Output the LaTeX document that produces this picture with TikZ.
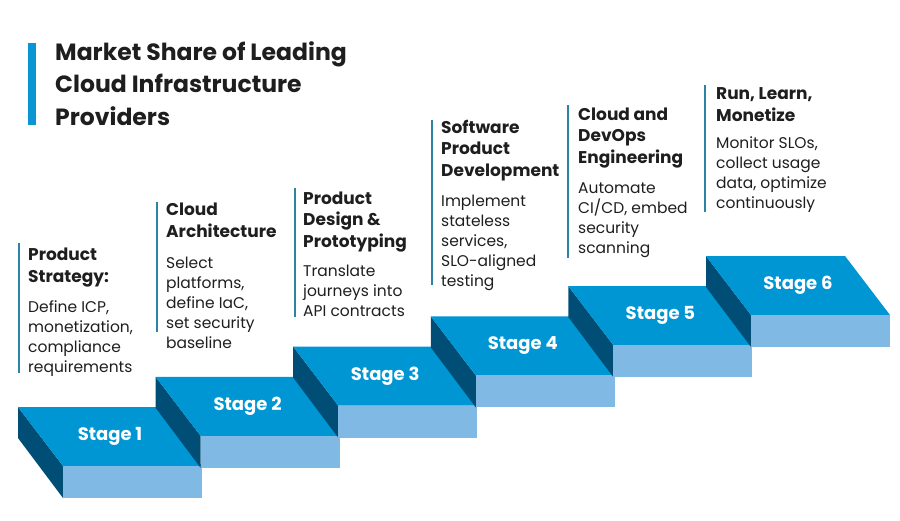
\documentclass[tikz,border=0pt]{standalone}
\usepackage{fontspec}
\setmainfont{Poppins}
\usepackage{tikz}
\definecolor{topblue}{RGB}{0,150,212}
\definecolor{sideblue}{RGB}{0,78,117}
\definecolor{frontblue}{RGB}{128,186,228}
\definecolor{barblue}{RGB}{10,150,210}
\definecolor{rulecol}{RGB}{45,130,165}
\definecolor{ink}{RGB}{30,30,30}

\begin{document}
\begin{tikzpicture}[x=1pt,y=-1pt,
  titletext/.style={anchor=base west,inner sep=0pt,align=left,text=ink,font=\fontsize{23.5}{32.5}\selectfont\bfseries},
  head/.style={anchor=base west,inner sep=0pt,align=left,text=ink,font=\fontsize{17}{21.5}\selectfont\bfseries},
  body/.style={anchor=base west,inner sep=0pt,align=left,text=ink,font=\fontsize{15.5}{20}\selectfont},
  stagelabel/.style={text=white,font=\fontsize{18}{20}\selectfont\bfseries},
  divider/.style={rulecol,line width=1.3pt}]
\useasboundingbox (0,0) rectangle (900,520);
%%% title with the bar on its left (base = last line)
\fill[barblue] (28,43) rectangle (36,125);
\node[titletext] (title) at (55,125) {Market Share of Leading\\Cloud Infrastructure\\Providers};
%%% the six steps, lowest first
\foreach \i in {1,...,6}{
  \pgfmathsetmacro\bx{18+(\i-1)*137.6}
  \pgfmathsetmacro\by{407-(\i-1)*30.2}
  \begin{scope}[shift={(\bx,\by)}]
  \fill[sideblue] (0,0) -- (45,59) -- (45,91) -- (0,31) -- cycle;
  \fill[topblue] (0,0) -- (139,0) -- (184,59) -- (45,59) -- cycle;
  \fill[frontblue] (45,59) -- (184,59) -- (184,91) -- (45,91) -- cycle;
  \node[stagelabel] (stage\i) at (92,29.5) {Stage \i};
  \end{scope}
}
%%% the texts above the steps
\draw[divider] (19,243) -- (19,373);
\node[head] (head1) at (28,282) {Product\\Strategy:};
\node[body] (body1) at (28,372) {Define ICP,\\monetization,\\compliance\\requirements};
%
\draw[divider] (157,202) -- (157,332);
\node[head] (head2) at (166,237) {Cloud\\Architecture};
\node[body] (body2) at (166,348) {Select\\platforms,\\define IaC,\\set security\\baseline};
%
\draw[divider] (295,188) -- (295,317);
\node[head] (head3) at (303,247) {Product\\Design \&\\Prototyping};
\node[body] (body3) at (303,316) {Translate\\journeys into\\API contracts};
%
\draw[divider] (432,120) -- (432,285);
\node[head] (head4) at (441,176) {Software\\Product\\Development};
\node[body] (body4) at (441,286) {Implement\\stateless\\services,\\SLO-aligned\\testing};
%
\draw[divider] (568,105) -- (568,258);
\node[head] (head5) at (578,163) {Cloud and\\DevOps\\Engineering};
\node[body] (body5) at (578,253) {Automate\\CI/CD, embed\\security\\scanning};
%
\draw[divider] (705,85) -- (705,212);
\node[head] (head6) at (716,121) {Run, Learn,\\Monetize};
\node[body] (body6) at (716,208) {Monitor SLOs,\\collect usage\\data, optimize\\continuously};
\end{tikzpicture}
\end{document}
